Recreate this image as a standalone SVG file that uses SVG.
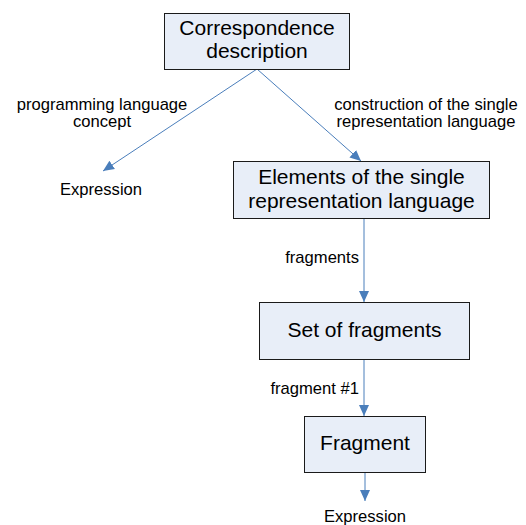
<svg xmlns="http://www.w3.org/2000/svg" width="526" height="525" viewBox="0 0 526 525">
<style>
.box{fill:#E8EEF8;stroke:#1a1a1a;stroke-width:1}
.bt{font-family:"Liberation Sans",Arial,sans-serif;font-size:21px;fill:#000;text-anchor:middle}
.lb{font-family:"Liberation Sans",Arial,sans-serif;font-size:16.6px;fill:#000}
.c{stroke:#4A7EBB;stroke-width:1;fill:none;marker-end:url(#ah)}
</style>
<defs>
<marker id="ah" markerWidth="12" markerHeight="12" refX="11" refY="5" orient="auto" markerUnits="userSpaceOnUse" viewBox="0 0 12 10">
<path d="M0,0 L11,5 L0,10 Z" fill="#4A7EBB"/>
</marker>
</defs>
<g id="connectors">
<line class="c" x1="257" y1="69" x2="103" y2="171"/>
<line class="c" x1="257" y1="69" x2="361" y2="161"/>
<line class="c" x1="364" y1="218" x2="364" y2="302"/>
<line class="c" x1="364" y1="359" x2="364" y2="416"/>
<line class="c" x1="365" y1="472" x2="365" y2="501"/>
</g>
<g id="n1">
<rect class="box" x="164.5" y="13.5" width="185" height="56"/>
<text class="bt" x="257" y="35">Correspondence</text>
<text class="bt" x="257" y="58">description</text>
</g>
<g id="n2">
<rect class="box" x="233.5" y="161.5" width="256" height="57"/>
<text class="bt" x="361.5" y="184">Elements of the single</text>
<text class="bt" x="361.5" y="208">representation language</text>
</g>
<g id="n3">
<rect class="box" x="259.5" y="302.5" width="210" height="57"/>
<text class="bt" x="364.5" y="337">Set of fragments</text>
</g>
<g id="n4">
<rect class="box" x="304.5" y="416.5" width="121" height="56"/>
<text class="bt" x="365" y="450">Fragment</text>
</g>
<g id="labels">
<text class="lb" x="102" y="109.5" text-anchor="middle">programming language</text>
<text class="lb" x="102" y="127" text-anchor="middle">concept</text>
<text class="lb" x="426" y="109.5" text-anchor="middle">construction of the single</text>
<text class="lb" x="426" y="127" text-anchor="middle">representation language</text>
<text class="lb" x="101" y="195" text-anchor="middle">Expression</text>
<text class="lb" x="359" y="263" text-anchor="end">fragments</text>
<text class="lb" x="359" y="394" text-anchor="end">fragment #1</text>
<text class="lb" x="365" y="522" text-anchor="middle">Expression</text>
</g>
</svg>
